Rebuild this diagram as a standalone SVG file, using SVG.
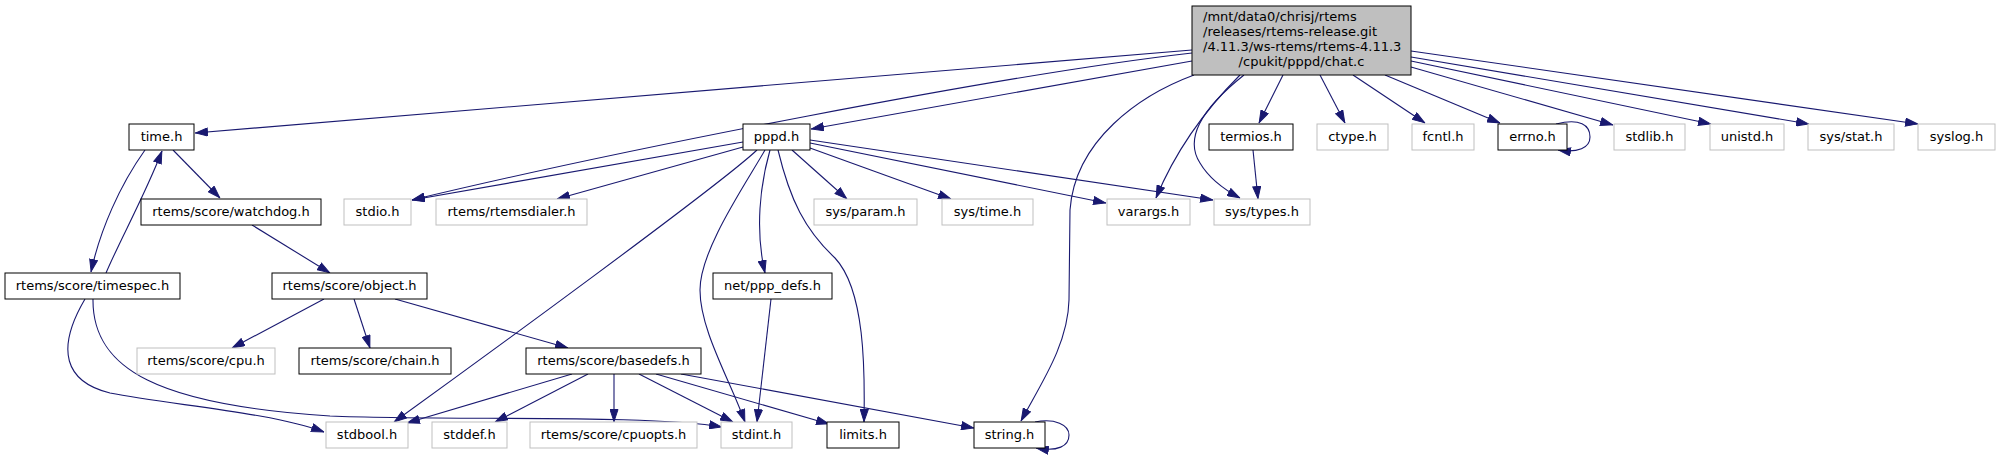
<svg xmlns="http://www.w3.org/2000/svg" width="2000" height="455" viewBox="0 0 2000 455">
<style>
text{font-family:"DejaVu Sans","Liberation Sans",sans-serif;font-size:13px;fill:#000;text-anchor:middle}
.d rect{fill:#fff;stroke:#000;stroke-width:1}
.u rect{fill:#fff;stroke:#bfbfbf;stroke-width:1}
.r rect{fill:#bfbfbf;stroke:#000;stroke-width:1}
#edges path{fill:none;stroke:#191970;stroke-width:1.1;marker-end:url(#arr)}
</style>
<defs>
<marker id="arr" markerWidth="13" markerHeight="9" refX="13" refY="4.5" orient="auto" markerUnits="userSpaceOnUse">
<path d="M0.5,0.5 L12.5,4.5 L0.5,8.5 z" fill="#191970" stroke="#191970" stroke-width="1"/>
</marker>
</defs>
<rect width="2000" height="455" fill="#fff"/>
<g id="edges">
<path d="M1192,50 L195,133"/>
<path d="M1192,53 C1000,75 620,150 412,200"/>
<path d="M1192,61 L811,129"/>
<path d="M1194,75 C1140,95 1075,140 1070,210 L1069,300 C1068,345 1040,385 1021,421"/>
<path d="M1240,75 C1215,100 1180,140 1156,198"/>
<path d="M1244,75 C1200,110 1185,140 1200,163 C1210,180 1225,190 1240,198"/>
<path d="M1283,75 L1259,123"/>
<path d="M1320,75 L1345,123"/>
<path d="M1353,75 L1425,123"/>
<path d="M1385,75 L1500,123"/>
<path d="M1411,67 L1613,125"/>
<path d="M1411,61 L1711,124"/>
<path d="M1411,57 L1809,124"/>
<path d="M1411,51 L1918,124"/>
<path d="M1556,124 C1580,118 1590,125 1590,137 C1590,148 1578,153 1558,150"/>
<path d="M173,150 L220,198"/>
<path d="M145,150 C120,185 100,230 91,272"/>
<path d="M106,273 C120,240 145,195 162,151"/>
<path d="M85,299 C55,350 65,382 110,393 C170,405 270,412 324,432"/>
<path d="M93,299 C92,370 160,405 330,416 C450,421 650,414 722,427"/>
<path d="M252,225 L330,273"/>
<path d="M324,299 L232,348"/>
<path d="M354,299 L370,348"/>
<path d="M395,299 L568,348"/>
<path d="M743,142 L412,200"/>
<path d="M743,147 L557,199"/>
<path d="M757,150 C720,185 480,360 394,422"/>
<path d="M765,150 C745,185 700,250 700,290 C700,330 730,380 745,422"/>
<path d="M770,150 C760,185 755,230 765,273"/>
<path d="M778,150 C790,200 805,230 835,258 C865,290 865,370 864,422"/>
<path d="M792,150 L847,199"/>
<path d="M810,148 L951,199"/>
<path d="M810,143 L1106,203"/>
<path d="M810,140 L1213,200"/>
<path d="M1253,150 L1258,199"/>
<path d="M771,299 L757,422"/>
<path d="M572,374 L407,423"/>
<path d="M588,374 L495,422"/>
<path d="M614,374 L614,422"/>
<path d="M639,374 L733,422"/>
<path d="M656,374 L829,424"/>
<path d="M681,374 L974,428"/>
<path d="M1035,422 C1055,418 1069,425 1069,435 C1069,446 1058,452 1036,448"/>
</g>
<g id="n_chat" class="r"><rect x="1192" y="6" width="219" height="69"/>
<text x="1203" y="21" style="text-anchor:start">/mnt/data0/chrisj/rtems</text>
<text x="1203" y="36" style="text-anchor:start">/releases/rtems-release.git</text>
<text x="1203" y="51" style="text-anchor:start">/4.11.3/ws-rtems/rtems-4.11.3</text>
<text x="1301.5" y="66">/cpukit/pppd/chat.c</text></g>
<g id="n_time" class="d"><rect x="129" y="124" width="65" height="26"/><text x="161.5" y="141">time.h</text></g>
<g id="n_pppd" class="d"><rect x="743" y="124" width="67" height="26"/><text x="776.5" y="141">pppd.h</text></g>
<g id="n_termios" class="d"><rect x="1209" y="124" width="84" height="26"/><text x="1251" y="141">termios.h</text></g>
<g id="n_ctype" class="u"><rect x="1317" y="124" width="71" height="26"/><text x="1352.5" y="141">ctype.h</text></g>
<g id="n_fcntl" class="u"><rect x="1412" y="124" width="62" height="26"/><text x="1443" y="141">fcntl.h</text></g>
<g id="n_errno" class="d"><rect x="1498" y="124" width="69" height="26"/><text x="1532.5" y="141">errno.h</text></g>
<g id="n_stdlib" class="u"><rect x="1614" y="124" width="71" height="26"/><text x="1649.5" y="141">stdlib.h</text></g>
<g id="n_unistd" class="u"><rect x="1710" y="124" width="74" height="26"/><text x="1747" y="141">unistd.h</text></g>
<g id="n_stat" class="u"><rect x="1808" y="124" width="86" height="26"/><text x="1851" y="141">sys/stat.h</text></g>
<g id="n_syslog" class="u"><rect x="1918" y="124" width="77" height="26"/><text x="1956.5" y="141">syslog.h</text></g>
<g id="n_watchdog" class="d"><rect x="141" y="199" width="180" height="26"/><text x="231" y="216">rtems/score/watchdog.h</text></g>
<g id="n_stdio" class="u"><rect x="344" y="199" width="67" height="26"/><text x="377.5" y="216">stdio.h</text></g>
<g id="n_dialer" class="u"><rect x="436" y="199" width="151" height="26"/><text x="511.5" y="216">rtems/rtemsdialer.h</text></g>
<g id="n_param" class="u"><rect x="814" y="199" width="103" height="26"/><text x="865.5" y="216">sys/param.h</text></g>
<g id="n_systime" class="u"><rect x="942" y="199" width="91" height="26"/><text x="987.5" y="216">sys/time.h</text></g>
<g id="n_varargs" class="u"><rect x="1107" y="199" width="83" height="26"/><text x="1148.5" y="216">varargs.h</text></g>
<g id="n_types" class="u"><rect x="1214" y="199" width="96" height="26"/><text x="1262" y="216">sys/types.h</text></g>
<g id="n_timespec" class="d"><rect x="5" y="273" width="175" height="26"/><text x="92.5" y="290">rtems/score/timespec.h</text></g>
<g id="n_object" class="d"><rect x="272" y="273" width="155" height="26"/><text x="349.5" y="290">rtems/score/object.h</text></g>
<g id="n_pppdefs" class="d"><rect x="713" y="273" width="119" height="26"/><text x="772.5" y="290">net/ppp_defs.h</text></g>
<g id="n_cpu" class="u"><rect x="137" y="348" width="138" height="26"/><text x="206" y="365">rtems/score/cpu.h</text></g>
<g id="n_chain" class="d"><rect x="299" y="348" width="152" height="26"/><text x="375" y="365">rtems/score/chain.h</text></g>
<g id="n_basedefs" class="d"><rect x="526" y="348" width="175" height="26"/><text x="613.5" y="365">rtems/score/basedefs.h</text></g>
<g id="n_stdbool" class="u"><rect x="326" y="422" width="82" height="26"/><text x="367" y="439">stdbool.h</text></g>
<g id="n_stddef" class="u"><rect x="432" y="422" width="75" height="26"/><text x="469.5" y="439">stddef.h</text></g>
<g id="n_cpuopts" class="u"><rect x="530" y="422" width="167" height="26"/><text x="613.5" y="439">rtems/score/cpuopts.h</text></g>
<g id="n_stdint" class="u"><rect x="721" y="422" width="71" height="26"/><text x="756.5" y="439">stdint.h</text></g>
<g id="n_limits" class="d"><rect x="827" y="422" width="72" height="26"/><text x="863" y="439">limits.h</text></g>
<g id="n_string" class="d"><rect x="974" y="422" width="71" height="26"/><text x="1009.5" y="439">string.h</text></g>
</svg>
